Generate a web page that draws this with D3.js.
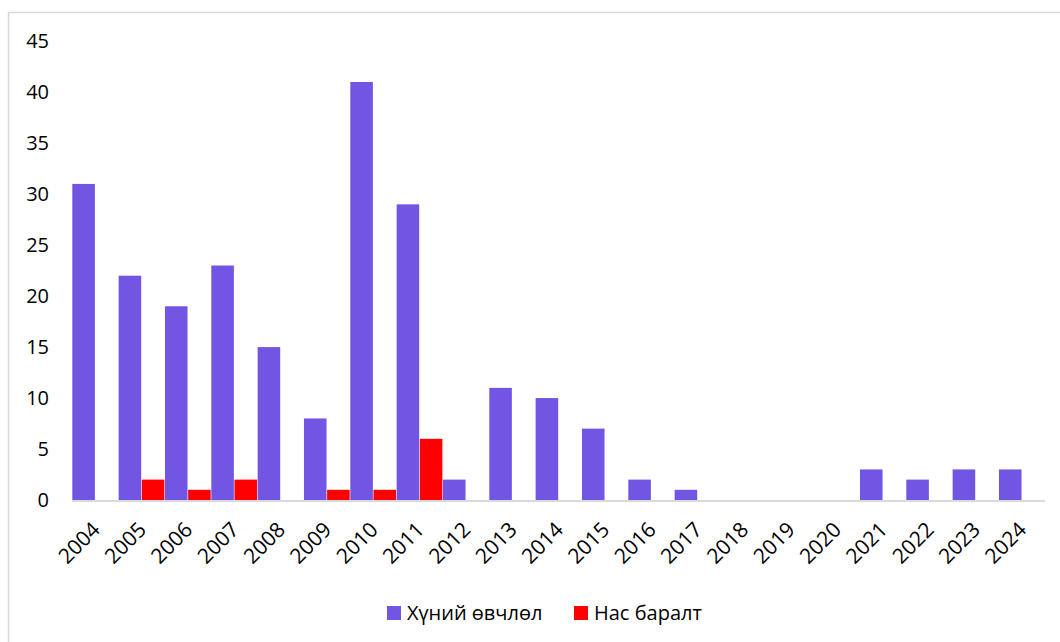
<!DOCTYPE html>
<html><head><meta charset="utf-8">
<script src="https://cdn.jsdelivr.net/npm/d3@7"></script>
<style>body{margin:0;background:#fff;} svg{display:block;}</style>
</head><body>
<svg id="c" width="1060" height="642"></svg>
<script>
const years = ["2004","2005","2006","2007","2008","2009","2010","2011","2012","2013","2014","2015","2016","2017","2018","2019","2020","2021","2022","2023","2024"];
const morbidity = [31,22,19,23,15,8,41,29,2,11,10,7,2,1,0,0,0,3,2,3,3];
const deaths = [0,2,1,2,0,1,1,6,0,0,0,0,0,0,0,0,0,0,0,0,0];
const seriesNames = ["Хүний өвчлөл","Нас баралт"];
const seriesColors = ["#7256E3","#FF0000"];
const yTicks = [0,5,10,15,20,25,30,35,40,45];

const svg = d3.select("#c");
const font = "'Open Sans', sans-serif";
svg.append("rect").attr("x",8.5).attr("y",12.5).attr("width",1100).attr("height",700)
  .attr("fill","#fff").attr("stroke","#d9d9d9").attr("stroke-width",1.5);

const x0 = d3.scaleBand().domain(years).range([72,1045]).paddingInner(0).paddingOuter(0);
const x1 = d3.scaleBand().domain([0,1]).range([0,x0.bandwidth()]).padding(0);
const y = d3.scaleLinear().domain([0,45]).range([500,41.2]);

const data = years.map((yr,i)=>({yr, vals:[morbidity[i],deaths[i]]}));
const g = svg.append("g");
g.selectAll("g.cat").data(data).join("g").attr("class","cat")
  .attr("transform",d=>`translate(${x0(d.yr)},0)`)
  .selectAll("rect").data(d=>d.vals.map((v,k)=>({v,k}))).join("rect")
  .attr("x",d=>x1(d.k)+0.3).attr("width",x1.bandwidth()-0.6)
  .attr("y",d=>y(d.v)).attr("height",d=>y(0)-y(d.v))
  .attr("fill",d=>seriesColors[d.k]);

// baseline
svg.append("line").attr("x1",72).attr("x2",1045).attr("y1",501).attr("y2",501)
  .attr("stroke","#d9d9d9").attr("stroke-width",2);

// y axis labels
const yAxis = d3.axisLeft(y).tickValues(yTicks).tickSize(0).tickPadding(0);
const ya = svg.append("g").attr("transform","translate(49,0)").call(yAxis);
ya.select(".domain").remove();
ya.selectAll("text").attr("font-family",font).attr("font-size",20).attr("fill","#000");

// x axis labels
const xAxis = d3.axisBottom(x0).tickSize(0).tickPadding(0);
const xa = svg.append("g").attr("transform","translate(0,500)").call(xAxis);
xa.select(".domain").remove();
xa.selectAll("text").attr("font-family",font).attr("font-size",21).attr("fill","#000")
  .attr("text-anchor","end").attr("y",0).attr("dy",0)
  .attr("transform","translate(6,31) rotate(-45)");

// legend
const leg = svg.append("g");
const legX = [387,574];
seriesNames.forEach((n,k)=>{
  leg.append("rect").attr("x",legX[k]).attr("y",606).attr("width",14).attr("height",14).attr("fill",seriesColors[k]);
  leg.append("text").attr("x",legX[k]+20).attr("y",620).attr("font-family",font).attr("font-size",20)
    .attr("fill","#000").text(n);
});
</script>
</body></html>
